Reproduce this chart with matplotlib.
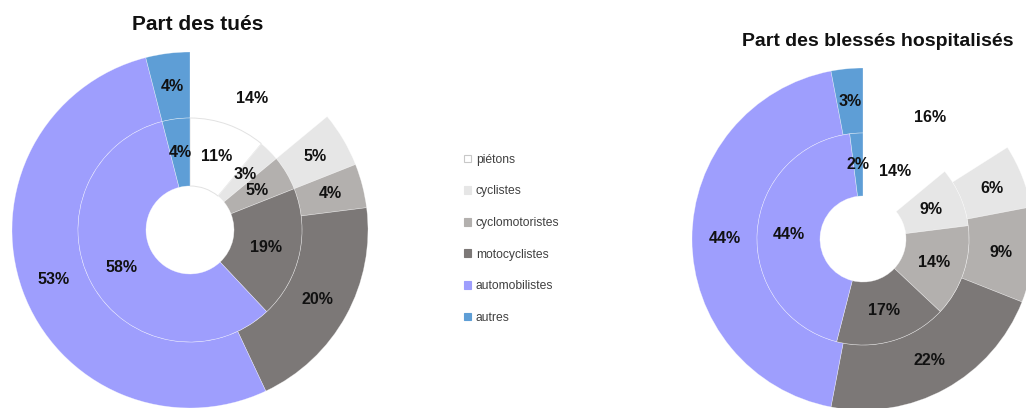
import matplotlib
matplotlib.use("Agg")
import matplotlib.pyplot as plt

plt.rcParams['font.family'] = ['Liberation Sans', 'DejaVu Sans']

# Road-user categories and their colours
categories = ["piétons", "cyclistes", "cyclomotoristes", "motocyclistes",
              "automobilistes", "autres"]
colors = ["#ffffff", "#e6e6e6", "#b3b0ae", "#7c7877", "#9e9efd", "#5e9ed6"]

# Share of killed (%): outer ring and inner ring
tues_outer = [14, 5, 4, 20, 53, 4]
tues_inner = [11, 3, 5, 19, 58, 4]

# Share of hospitalised injured (%): outer ring and inner ring
blesses_outer = [16, 6, 9, 22, 44, 3]
blesses_inner = [14, 9, 14, 17, 44, 2]

W, H = 1026, 408
fig = plt.figure(figsize=(W / 100, H / 100), dpi=100)
ax = fig.add_axes([0, 0, 1, 1])
ax.set_xlim(0, W)
ax.set_ylim(0, H)
ax.set_aspect('equal')
ax.axis('off')

label_kw = dict(fontsize=11.5, fontweight='bold', color='#111111')


def double_donut(center, r_hole, r_mid, r_out, outer, inner, outline_first):
    # outer ring
    ax.pie(outer, colors=colors, radius=r_out, center=center, startangle=90,
           counterclock=False, autopct='%.0f%%',
           pctdistance=(r_mid + r_out) / 2 / r_out,
           wedgeprops=dict(width=r_out - r_mid, edgecolor=(1, 1, 1, 0.5),
                           linewidth=0.4),
           textprops=label_kw, frame=True)
    # inner ring
    w_in, _, _ = ax.pie(
        inner, colors=colors, radius=r_mid, center=center, startangle=90,
        counterclock=False, autopct='%.0f%%',
        pctdistance=(r_hole + r_mid) / 2 / r_mid,
        wedgeprops=dict(width=r_mid - r_hole, edgecolor=(1, 1, 1, 0.55),
                        linewidth=0.4),
        textprops=label_kw, frame=True)
    if outline_first:
        w_in[0].set_edgecolor('#e2e2e2')
        w_in[0].set_linewidth(0.7)


double_donut((190, H - 230), 44, 112, 178, tues_outer, tues_inner, True)
double_donut((863, H - 239), 43, 106, 171, blesses_outer, blesses_inner, False)

ax.set_xlim(0, W)
ax.set_ylim(0, H)
ax.axis('off')

fig.text(198 / W, 1 - 25 / H, "Part des tués", ha='center', va='center',
         fontsize=15, fontweight='bold', color='#111111')
fig.text(878 / W, 1 - 42 / H, "Part des blessés hospitalisés", ha='center',
         va='center', fontsize=14, fontweight='bold', color='#111111')

# legend swatches, one per category
handles = []
for i, c in enumerate(colors):
    h = matplotlib.patches.Patch(facecolor=c,
                                 edgecolor='#c8c8c8' if i == 0 else c,
                                 linewidth=0.8)
    handles.append(h)
leg = fig.legend(handles, categories, loc='upper left',
                 bbox_to_anchor=(459 / W, 1 - 149 / H), frameon=False,
                 fontsize=8.7, handlelength=0.6, handleheight=0.6,
                 handletextpad=0.4, labelspacing=1.62, borderaxespad=0)
for t in leg.get_texts():
    t.set_color('#404040')

fig.savefig("out.png", dpi=100)
